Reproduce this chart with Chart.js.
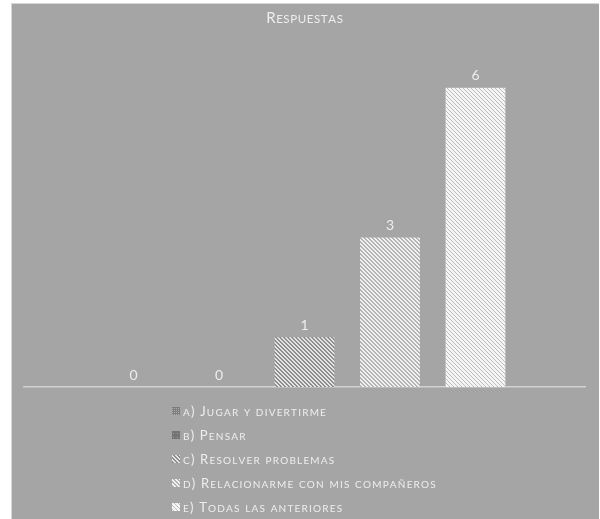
<!DOCTYPE html>
<html>
<head>
<meta charset="utf-8">
<script src="https://cdn.jsdelivr.net/npm/chart.js@4.4.0/dist/chart.umd.min.js"></script>
<style>
  html, body { margin: 0; padding: 0; background: #ffffff; }
  #wrap {
    position: absolute; left: 11px; top: 3px; width: 588px; height: 516px;
    background: #a5a5a5; border-top: 1px solid #d6d6d6; border-left: 1px solid #d6d6d6;
    box-sizing: border-box;
  }
</style>
</head>
<body>
<div id="wrap"><canvas id="chart"></canvas></div>
<script>
// survey answers, one bar per option
const CATEGORIES = [''];
const TITLE = 'Respuestas';
const SERIES = [
  'a) Jugar y divertirme',
  'b) Pensar',
  'c) Resolver problemas',
  'd) Relacionarme con mis compañeros',
  'e) Todas las anteriores'
];
const VALUES = [0, 0, 1, 3, 6];
const Y_MAX = 7;

const FONT = 'Lato';
const TEXT = '#eeeeee';

// small tiled fills for the bars and legend keys
function tile(size, paint) {
  const c = document.createElement('canvas');
  c.width = size; c.height = size;
  const g = c.getContext('2d');
  for (let y = 0; y < size; y++) {
    for (let x = 0; x < size; x++) {
      g.fillStyle = paint(x, y);
      g.fillRect(x, y, 1, 1);
    }
  }
  return g.createPattern(c, 'repeat');
}
const FILLS = [
  tile(4, (x, y) => (x % 2 === 0 && y % 2 === 0) ? '#b0b0b0' : '#7d7d7d'),
  tile(4, (x, y) => (x === 1 && y === 1) ? '#a0a0a0' : '#747474'),
  tile(4, (x, y) => ((x - y + 8) % 4 < 2) ? '#e4e4e4' : '#8e8e8e'),
  tile(4, (x, y) => ((x - y + 8) % 4 < 2) ? '#f2f2f2' : '#b4b4b4'),
  tile(4, (x, y) => ((x - y + 8) % 4 < 3) ? '#f4f4f4' : '#bdbdbd')
];

// hand-rolled small caps: lowercase letters drawn as smaller capitals
function capsRuns(text) {
  return Array.from(text).map(ch => {
    const low = ch !== ch.toUpperCase();
    return { ch: low ? ch.toUpperCase() : ch, small: low };
  });
}
function capsWidth(ctx, text, big, small, spacing) {
  let w = 0;
  for (const r of capsRuns(text)) {
    ctx.font = (r.small ? small : big) + 'px ' + FONT;
    w += ctx.measureText(r.ch).width + spacing;
  }
  return w - spacing;
}
function drawCaps(ctx, text, x, y, big, small, spacing, align) {
  let cx = x;
  if (align === 'center') cx = x - capsWidth(ctx, text, big, small, spacing) / 2;
  ctx.textAlign = 'left';
  ctx.textBaseline = 'alphabetic';
  for (const r of capsRuns(text)) {
    ctx.font = (r.small ? small : big) + 'px ' + FONT;
    ctx.fillText(r.ch, cx, y);
    cx += ctx.measureText(r.ch).width + spacing;
  }
}

const datasets = SERIES.map((name, i) => ({
  label: name,
  data: [VALUES[i]],
  backgroundColor: FILLS[i],
  borderWidth: 0,
  categoryPercentage: 0.762,
  barPercentage: 0.70
}));

// value above each bar
const valueLabels = {
  id: 'valueLabels',
  afterDatasetsDraw(chart) {
    const ctx = chart.ctx;
    ctx.save();
    ctx.font = '14px ' + FONT;
    ctx.fillStyle = TEXT;
    ctx.textAlign = 'center';
    ctx.textBaseline = 'bottom';
    chart.data.datasets.forEach((ds, i) => {
      const bar = chart.getDatasetMeta(i).data[0];
      ctx.fillText(String(ds.data[0]), bar.x, bar.y - 5);
    });
    ctx.restore();
  }
};

// title and stacked legend, both in small caps
const capsText = {
  id: 'capsText',
  afterDraw(chart) {
    const ctx = chart.ctx;
    const area = chart.chartArea;
    ctx.save();
    ctx.fillStyle = TEXT;
    drawCaps(ctx, TITLE, (area.left + area.right) / 2, 19, 15, 11.5, 0.6, 'center');

    const x0 = 160, y0 = 407, step = 24;
    chart.data.datasets.forEach((ds, i) => {
      const y = y0 + i * step;
      ctx.fillStyle = ds.backgroundColor;
      ctx.fillRect(x0, y - 4, 8, 8);
      ctx.fillStyle = TEXT;
      drawCaps(ctx, ds.label, x0 + 11, y + 4.5, 13, 10, 1.2, 'left');
    });
    ctx.restore();
  }
};

new Chart(document.getElementById('chart'), {
  type: 'bar',
  data: { labels: CATEGORIES, datasets },
  options: {
    responsive: true,
    maintainAspectRatio: false,
    animation: false,
    layout: { padding: { left: 12, right: 14, top: 34, bottom: 124 } },
    plugins: {
      legend: { display: false },
      tooltip: { enabled: false },
      title: { display: false }
    },
    scales: {
      x: {
        grid: { display: false },
        ticks: { display: false },
        border: { display: true, color: '#d2d2d2', width: 1.5 }
      },
      y: {
        display: false,
        min: 0,
        max: Y_MAX
      }
    }
  },
  plugins: [valueLabels, capsText]
});
</script>
</body>
</html>
